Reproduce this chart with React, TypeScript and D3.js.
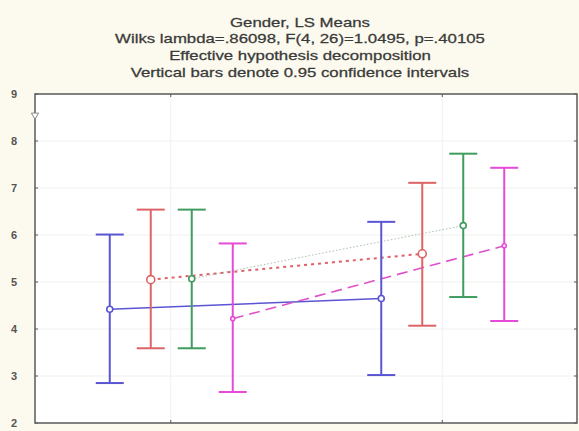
import React, { useRef, useEffect } from "react";
import * as d3 from "d3";

const titleLines = [
  "Gender, LS Means",
  "Wilks lambda=.86098, F(4, 26)=1.0495, p=.40105",
  "Effective hypothesis decomposition",
  "Vertical bars denote 0.95 confidence intervals",
];

const categories = ["1", "2"];
const seriesNames = ["blue", "red", "green", "magenta"];
const seriesColors = ["#5a55d2", "#dc6466", "#3f9c5e", "#e64ad6"];
const lineColors = ["#5a55d2", "#e0606a", "#a9bfae", "#e050cc"];
const lineDash = ["", "3,4", "1.5,2", "11,6"];
const lineWidth = [1.4, 2, 1, 1.6];

const means = [
  [4.42, 4.65],
  [5.05, 5.6],
  [5.07, 6.2],
  [4.22, 5.77],
];
const upper = [
  [6.01, 6.28],
  [6.54, 7.11],
  [6.54, 7.73],
  [5.82, 7.43],
];
const lower = [
  [2.85, 3.02],
  [3.59, 4.07],
  [3.59, 4.68],
  [2.66, 4.17],
];

const yTicks = [2, 3, 4, 5, 6, 7, 8, 9];

const App = () => {
  const svgRef = useRef<SVGSVGElement>(null);

  useEffect(() => {
    const width = 579;
    const height = 431;
    const svg = d3.select(svgRef.current);
    svg.selectAll("*").remove();

    const margin = { top: 94, right: 1, bottom: 8, left: 35 };

    svg.append("rect").attr("width", width).attr("height", height).attr("fill", "#fcfaee");

    const x = d3
      .scalePoint()
      .domain(categories)
      .range([margin.left, width - margin.right])
      .padding(0.5);

    // spread of the four groups around each category
    const offset = d3
      .scalePoint()
      .domain(seriesNames)
      .range([-61, 62]);

    const y = d3
      .scaleLinear()
      .domain([2, 9])
      .range([height - margin.bottom, margin.top]);

    // plot area
    svg
      .append("rect")
      .attr("x", margin.left)
      .attr("y", margin.top)
      .attr("width", width - margin.left - margin.right)
      .attr("height", height - margin.top - margin.bottom)
      .attr("fill", "#ffffff");

    // faint grid
    const grid = svg.append("g").attr("stroke", "#f0f0ee").attr("stroke-width", 1);
    yTicks.slice(1, -1).forEach((t) => {
      grid
        .append("line")
        .attr("x1", margin.left)
        .attr("x2", width - margin.right)
        .attr("y1", y(t))
        .attr("y2", y(t));
    });
    categories.forEach((c) => {
      grid
        .append("line")
        .attr("x1", x(c)!)
        .attr("x2", x(c)!)
        .attr("y1", margin.top)
        .attr("y2", height - margin.bottom);
    });

    // connecting lines
    means.forEach((m, s) => {
      const ln = d3
        .line<number>()
        .x((_, i) => x(categories[i])! + offset(seriesNames[s])!)
        .y((d) => y(d));
      svg
        .append("path")
        .attr("d", ln(m))
        .attr("fill", "none")
        .attr("stroke", lineColors[s])
        .attr("stroke-width", lineWidth[s])
        .attr("stroke-dasharray", lineDash[s]);
    });

    // error bars
    means.forEach((m, s) => {
      const g = svg.append("g").attr("stroke", seriesColors[s]).attr("stroke-width", 2);
      m.forEach((v, i) => {
        const cx = x(categories[i])! + offset(seriesNames[s])!;
        g.append("line")
          .attr("x1", cx)
          .attr("x2", cx)
          .attr("y1", y(upper[s][i]))
          .attr("y2", y(lower[s][i]));
        [upper[s][i], lower[s][i]].forEach((b) => {
          g.append("line")
            .attr("x1", cx - 14)
            .attr("x2", cx + 14)
            .attr("y1", y(b))
            .attr("y2", y(b));
        });
        g.append("circle")
          .attr("cx", cx)
          .attr("cy", y(v))
          .attr("r", s === 1 ? 4 : s === 3 ? 2 : 3)
          .attr("fill", "#ffffff")
          .attr("stroke-width", 1.6);
      });
    });

    // frame
    svg
      .append("rect")
      .attr("x", margin.left)
      .attr("y", margin.top)
      .attr("width", width - margin.left - margin.right - 1)
      .attr("height", height - margin.top - margin.bottom)
      .attr("fill", "none")
      .attr("stroke", "#5a5a5a")
      .attr("stroke-width", 1.5);

    // y axis ticks + labels
    const yAxis = svg.append("g");
    yTicks.forEach((t) => {
      yAxis
        .append("line")
        .attr("x1", margin.left)
        .attr("x2", margin.left + 3)
        .attr("y1", y(t))
        .attr("y2", y(t))
        .attr("stroke", "#5a5a5a");
      yAxis
        .append("line")
        .attr("x1", width - margin.right - 4)
        .attr("x2", width - margin.right - 1)
        .attr("y1", y(t))
        .attr("y2", y(t))
        .attr("stroke", "#5a5a5a");
      yAxis
        .append("text")
        .attr("x", 14)
        .attr("y", y(t) + 4)
        .attr("text-anchor", "middle")
        .attr("font-family", "Liberation Sans, Arial, sans-serif")
        .attr("font-size", 11)
        .attr("font-weight", "bold")
        .attr("fill", "#555")
        .text(t);
    });

    // x ticks top/bottom
    categories.forEach((c) => {
      [margin.top, height - margin.bottom].forEach((yy, k) => {
        svg
          .append("line")
          .attr("x1", x(c)!)
          .attr("x2", x(c)!)
          .attr("y1", yy)
          .attr("y2", k === 0 ? yy + 3 : yy - 3)
          .attr("stroke", "#5a5a5a");
      });
    });

    // small marker on left axis
    svg
      .append("path")
      .attr("d", d3.symbol(d3.symbolTriangle, 22)())
      .attr("transform", `translate(${margin.left},${y(8.55)}) rotate(180)`)
      .attr("fill", "#ffffff")
      .attr("stroke", "#888")
      .attr("stroke-width", 1);

    // title (the original is horizontally stretched)
    svg
      .append("g")
      .selectAll("text")
      .data(titleLines)
      .join("text")
      .attr("transform", (_, i) => `translate(300,${26.5 + i * 16.8}) scale(1.4,1)`)
      .attr("text-anchor", "middle")
      .attr("font-family", "Liberation Sans, Arial, sans-serif")
      .attr("font-size", 12)
      .attr("fill", "#3a3a3a")
      .attr("stroke", "#3a3a3a")
      .attr("stroke-width", 0.25)
      .text((d) => d);
  }, []);

  return (
    <div style={{ position: "absolute", left: 0, top: 0 }}>
      <svg ref={svgRef} width={579} height={431} style={{ display: "block" }} />
    </div>
  );
};

export default App;
